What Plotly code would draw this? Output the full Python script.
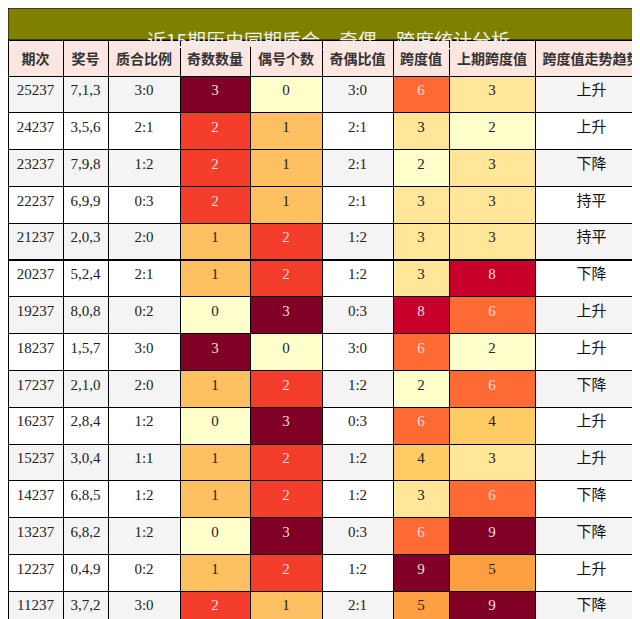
import plotly.graph_objects as go

periods = ["25237","24237","23237","22237","21237","20237","19237","18237","17237","16237","15237","14237","13237","12237","11237"]
numbers = ["7,1,3","3,5,6","7,9,8","6,9,9","2,0,3","5,2,4","8,0,8","1,5,7","2,1,0","2,8,4","3,0,4","6,8,5","6,8,2","0,4,9","3,7,2"]
prime_ratio = ["3:0","2:1","1:2","0:3","2:0","2:1","0:2","3:0","2:0","1:2","1:1","1:2","1:2","0:2","3:0"]
odd_count = [3,2,2,2,1,1,0,3,1,0,1,1,0,1,2]
even_count = [0,1,1,1,2,2,3,0,2,3,2,2,3,2,1]
odd_even = ["3:0","2:1","2:1","2:1","1:2","1:2","0:3","3:0","1:2","0:3","1:2","1:2","0:3","1:2","2:1"]
span = [6,3,2,3,3,3,8,6,2,6,4,3,6,9,5]
prev_span = [3,2,3,3,3,8,6,2,6,4,3,6,9,5,9]
trend = ["上升","上升","下降","持平","持平","下降","上升","上升","下降","上升","上升","下降","下降","上升","下降"]
headers = ["期次","奖号","质合比例","奇数数量","偶号个数","奇偶比值","跨度值","上期跨度值","跨度值走势趋势"]

cnt_col = {0:"#ffffcc",1:"#fec060",2:"#f43d2a",3:"#800026"}
span_col = {2:"#ffffcc",3:"#ffe699",4:"#fecb65",5:"#fea041",6:"#fd6a33",8:"#c8002a",9:"#800026"}
def fc(c):
    return "#f5dede" if c in ("#800026","#c8002a","#f43d2a","#fd6a33") else "#222222"

n = len(periods)
rowbg = ["#f4f4f4" if i % 2 == 0 else "#ffffff" for i in range(n)]
fills = [rowbg, rowbg, rowbg,
         [cnt_col[v] for v in odd_count],
         [cnt_col[v] for v in even_count],
         rowbg,
         [span_col[v] for v in span],
         [span_col[v] for v in prev_span],
         rowbg]
fcols = [["#222"]*n]*3 + [[fc(c) for c in fills[3]], [fc(c) for c in fills[4]], ["#222"]*n,
         [fc(c) for c in fills[6]], [fc(c) for c in fills[7]], ["#111"]*n]
families = ["Liberation Serif"]*8 + ["Noto Sans CJK SC"]

fig = go.Figure(go.Table(
    columnwidth=[55,45,72,70,72,71,56,86,113],
    header=dict(values=[f"<b>{h}</b>" for h in headers], fill_color="#fde5e0",
                line_color="black", line_width=1, height=35, align="center",
                font=dict(family="Noto Sans CJK SC", size=14, color="#333")),
    cells=dict(values=[periods, numbers, prime_ratio, odd_count, even_count, odd_even, span, prev_span, trend],
               fill_color=fills, line_color="black", line_width=1, height=36.8, align="center",
               font=dict(family=families, size=15, color=fcols)),
    domain=dict(x=[0,1], y=[0,1])
))
fig.update_layout(width=640, height=619, margin=dict(l=0, r=0, t=32, b=0), paper_bgcolor="white",
                  shapes=[dict(type="rect", xref="paper", yref="paper", x0=0, x1=1, y0=1, y1=1+32/587,
                               fillcolor="#808000", line=dict(color="black", width=1))],
                  annotations=[dict(text="近15期历史同期质合，奇偶，跨度统计分析", xref="paper", yref="paper",
                                    x=0.5, y=1+16/587, showarrow=False,
                                    font=dict(family="Noto Sans CJK SC", size=19, color="#f0f0f0"))])
fig.write_html("out.html")
